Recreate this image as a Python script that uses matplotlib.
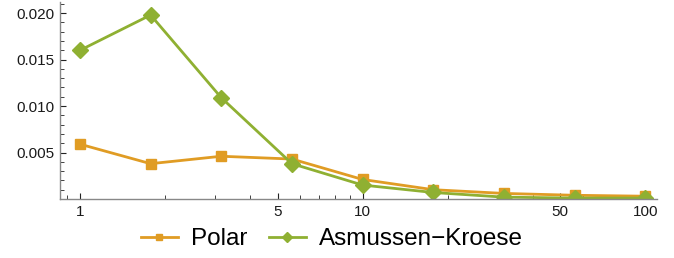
import matplotlib.pyplot as plt
from matplotlib.ticker import FixedLocator, MultipleLocator, LogLocator, NullFormatter

plt.rcParams['font.family'] = ['Liberation Sans', 'DejaVu Sans']

# data (x is log spaced, 4 per decade)
x = [1, 1.778, 3.162, 5.623, 10, 17.78, 31.62, 56.23, 100]
polar = [0.0059, 0.0038, 0.0046, 0.0043, 0.0021, 0.0010, 0.0006, 0.0004, 0.0003]
asmussen_kroese = [0.0160, 0.0198, 0.0109, 0.0038, 0.0015, 0.0007, 0.0002, 0.0001, 0.0001]

x_ticks = [1, 5, 10, 50, 100]
x_tick_labels = ['1', '5', '10', '50', '100']
y_ticks = [0.005, 0.010, 0.015, 0.020]
y_tick_labels = ['0.005', '0.010', '0.015', '0.020']

orange = '#E09C24'
green = '#8FB032'

fig = plt.figure(figsize=(6.74, 2.58), dpi=100)
ax = fig.add_axes([60 / 674, 59 / 258, 597 / 674, 197 / 258])

ax.plot(x, polar, color=orange, lw=2.0, marker='s', ms=7.5, label='Polar')
ax.plot(x, asmussen_kroese, color=green, lw=2.0, marker='D', ms=8.5,
        label='Asmussen\u2212Kroese')

ax.set_xscale('log')
ax.set_xlim(0.85, 110)
ax.set_ylim(0, 0.0212)

ax.xaxis.set_major_locator(FixedLocator(x_ticks))
ax.set_xticklabels(x_tick_labels)
ax.xaxis.set_minor_locator(LogLocator(base=10, subs=range(1, 10)))
ax.xaxis.set_minor_formatter(NullFormatter())

ax.yaxis.set_major_locator(FixedLocator(y_ticks))
ax.set_yticklabels(y_tick_labels)
ax.yaxis.set_minor_locator(MultipleLocator(0.001))

for side in ('top', 'right'):
    ax.spines[side].set_visible(False)
for side in ('left', 'bottom'):
    ax.spines[side].set_color('#888888')
    ax.spines[side].set_linewidth(1.0)

ax.tick_params(which='both', direction='in', color='#222222', labelsize=11,
               labelcolor='#1a1a1a')
ax.tick_params(which='major', length=4.5, width=0.8)
ax.tick_params(which='minor', length=2.8, width=0.6)
ax.tick_params(axis='x', pad=4)
ax.tick_params(axis='y', pad=4)

ax.legend(loc='center', bbox_to_anchor=(332 / 674, 19 / 258),
          bbox_transform=fig.transFigure, ncol=2, frameon=False,
          fontsize=17.5, handlelength=1.5, columnspacing=0.9,
          handletextpad=0.55, markerscale=0.65, borderpad=0, borderaxespad=0)

fig.savefig('out.png', dpi=100)
